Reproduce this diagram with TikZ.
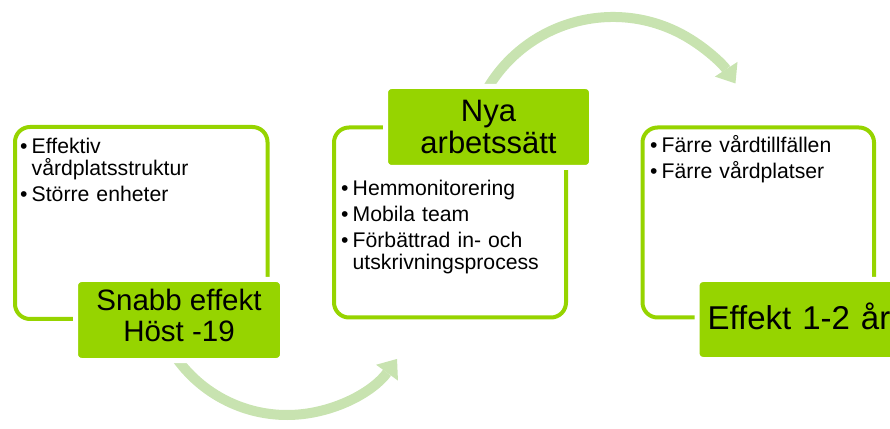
\documentclass[tikz,border=0pt]{standalone}
\usepackage{fontspec}
\setmainfont{Liberation Sans}
\usetikzlibrary{arrows.meta}
\definecolor{leafgreen}{RGB}{150,212,0}
\definecolor{arrowgreen}{RGB}{200,227,176}
\newcommand{\bul}[1]{\par\parshape 2 0pt \hsize 11.5pt \dimexpr\hsize-11.5pt\relax
  \noindent\makebox[11.5pt][l]{\rule{0pt}{16pt}\textbullet}#1\par}
\newcommand{\brk}{\hfil\break}
\begin{document}
\begin{tikzpicture}[x=1pt,y=1pt,
  outlinebox/.style={draw=leafgreen, line width=4pt, rounded corners=15pt, inner sep=0pt},
  greenbox/.style={fill=leafgreen, draw=white, line width=5pt, rounded corners=6pt, inner sep=2pt, align=center},
  bullets/.style={anchor=north west, inner sep=0pt, font=\fontsize{21.2}{22}\selectfont,
    execute at begin node={\setlength{\parskip}{4pt}}},
  arcarrow/.style={draw=arrowgreen, line width=10pt, -{Triangle[width=27pt,length=17pt,line width=0pt]}},
]
\useasboundingbox (0,0) rectangle (890,428);
\clip (0,0) rectangle (890,428);
% arrows (behind boxes)
\coordinate (a1s) at ({287+136*cos(214)},{149+136*sin(214)});
\draw[arcarrow] (a1s) arc[start angle=214, end angle=324, radius=136];
\coordinate (a2s) at ({613+146*cos(150)},{265+146*sin(150)});
\draw[arcarrow] (a2s) arc[start angle=150, end angle=33, radius=146];
% outlined boxes
\node[outlinebox, minimum width=252.5pt, minimum height=192pt] (o1) at (141.25,205) {};
\node[outlinebox, minimum width=232pt, minimum height=190pt] (o2) at (450,205.5) {};
\node[outlinebox, minimum width=231.5pt, minimum height=190pt] (o3) at (758.25,205.5) {};
% green label boxes
\node[greenbox, minimum width=207pt, minimum height=81pt, text depth=10pt,
  font=\fontsize{29.5}{31}\selectfont] (g1) at (179,108) {Snabb effekt\\Höst -19};
\node[greenbox, minimum width=206pt, minimum height=81pt,
  font=\fontsize{31}{32}\selectfont] (g2) at (488.5,301) {Nya\\arbetssätt};
\node[greenbox, anchor=west, text width=200pt, align=left, inner xsep=10.5pt,
  minimum height=80pt, text depth=7pt, font=\fontsize{33}{36}\selectfont] (g3) at (694.5,108.5) {Effekt 1-2 år};
% bullet texts
\node[bullets, text width=240pt] (t1) at (20,301)
  {\bul{Effektiv\brk vårdplatsstruktur}\bul{Större enheter}};
\node[bullets, text width=215pt] (t2) at (341,259)
  {\bul{Hemmonitorering}\bul{Mobila team}\bul{Förbättrad in- och\brk utskrivningsprocess}};
\node[bullets, text width=220pt] (t3) at (650,302)
  {\bul{Färre vårdtillfällen}\bul{Färre vårdplatser}};
\end{tikzpicture}
\end{document}
